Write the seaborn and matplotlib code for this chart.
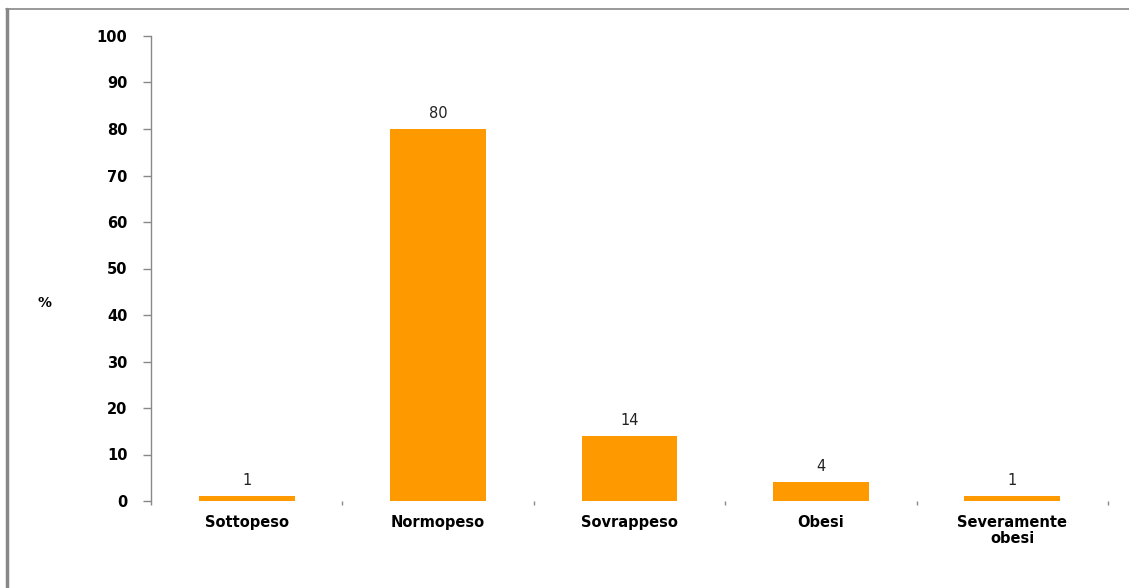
import matplotlib
matplotlib.use("Agg")
import matplotlib.pyplot as plt
from matplotlib.lines import Line2D
import seaborn as sns
import pandas as pd
import numpy as np

categories = ["Sottopeso", "Normopeso", "Sovrappeso", "Obesi", "Severamente\nobesi"]
values = [1, 80, 14, 4, 1]
yticks = [0, 10, 20, 30, 40, 50, 60, 70, 80, 90, 100]

sns.set_theme(style="white")
plt.rcParams['font.family'] = ['DejaVu Sans']

df = pd.DataFrame({"cat": categories, "val": values})

fig = plt.figure(figsize=(11.29, 5.88), dpi=100)
ax = fig.add_axes([151/1129, (588-501)/588, (1108-151)/1129, (501-36)/588])

sns.barplot(data=df, x="cat", y="val", color="#FF9900", width=0.5, ax=ax,
            saturation=1, edgecolor="none")

ax.set_xlim(-0.5, len(categories) - 0.5)
ax.set_ylim(0, 100)
ax.set_yticks(yticks)
ax.set_yticklabels([str(t) for t in yticks], fontsize=10.5, fontweight="bold", color="black")
ax.set_xticks(range(len(categories)))
ax.set_xticklabels(categories, fontsize=10.5, fontweight="bold", color="black", linespacing=1.12)
ax.set_xticks(np.arange(-0.5, len(categories), 1.0), minor=True)
ax.tick_params(axis="x", which="major", bottom=True, length=0, pad=10)
ax.tick_params(axis="x", which="minor", bottom=True, length=3, width=1, color="#888888", direction="out")
ax.tick_params(axis="y", left=True, length=5.5, width=1, color="#888888", direction="out", pad=11.5)
ax.set_xlabel("")
ax.set_ylabel("")

for s in ["top", "right", "bottom"]:
    ax.spines[s].set_visible(False)
ax.spines["left"].set_color("#888888")
ax.spines["left"].set_linewidth(1)

for i, v in enumerate(values):
    ax.annotate(str(v), (i, v), xytext=(0, 6), textcoords="offset points",
                ha="center", va="bottom", fontsize=10.5, color="#222222")

fig.text(45/1129, 1 - 303/588, "%", ha="center", va="center", fontsize=10,
         fontweight="bold", color="black")

# outer frame lines
fig.add_artist(Line2D([6/1129, 1], [1 - 9/588, 1 - 9/588], transform=fig.transFigure,
                      color="#888888", linewidth=1.2))
fig.add_artist(Line2D([7/1129, 7/1129], [0, 1 - 9/588], transform=fig.transFigure,
                      color="#888888", linewidth=2.5))

fig.savefig("out.png", dpi=100)
